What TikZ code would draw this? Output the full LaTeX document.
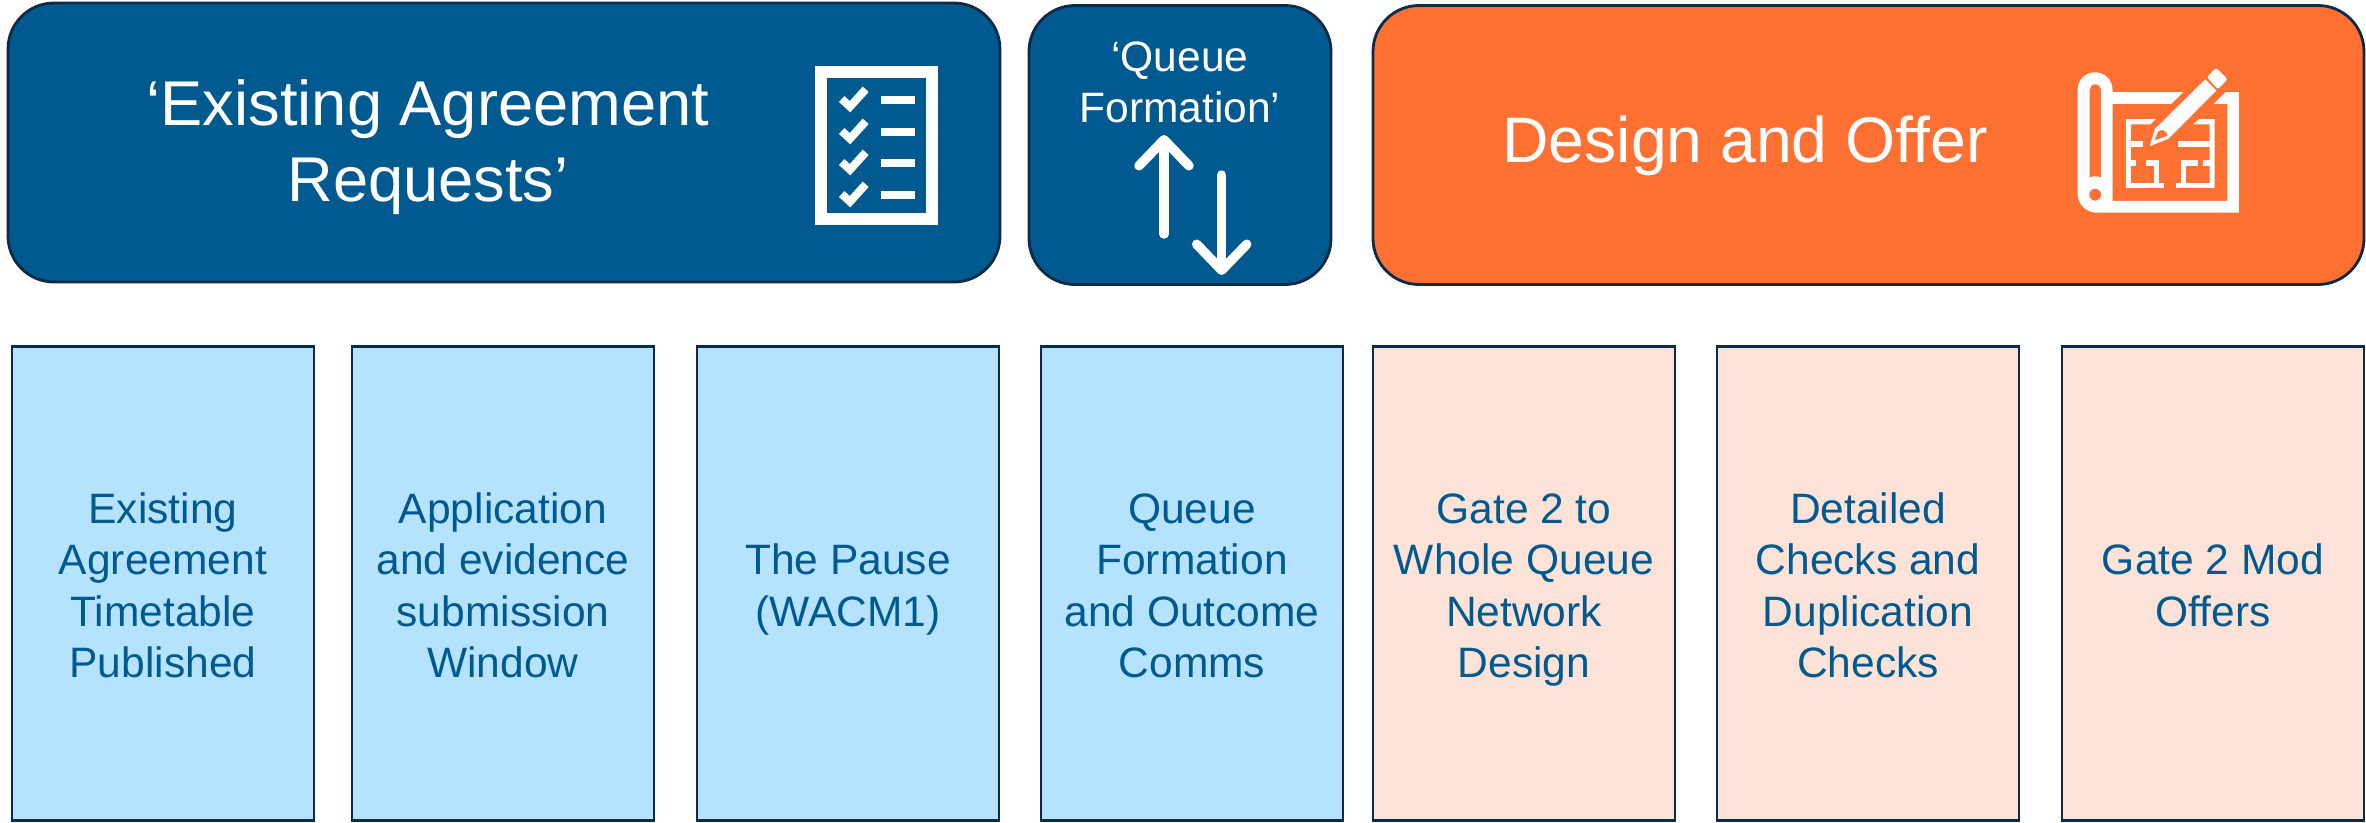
\documentclass[tikz,border=0pt]{standalone}
\usepackage{fontspec}
\setmainfont{Liberation Sans}
\usetikzlibrary{arrows.meta}
\usetikzlibrary{positioning}

\definecolor{navyline}{HTML}{0B2B48}
\definecolor{headblue}{HTML}{005A8F}
\definecolor{headorange}{HTML}{FF7033}
\definecolor{stepblue}{HTML}{B5E3FF}
\definecolor{steporange}{HTML}{FDE2D7}

% fixes the height of a first line, so all step texts centre alike
\newcommand{\steptop}{\rule{0pt}{12.4pt}}

\tikzset{
    headbox/.style = {draw = navyline, line width = 0.8pt, rounded corners = 0.46cm, inner sep = 0pt, outer sep = 0pt, minimum height = 2.79cm},
    stepbox/.style = {draw = navyline, line width = 0.8pt, text = headblue, align = center, inner sep = 0pt, outer sep = 0pt, minimum width = 3.02cm, minimum height = 4.74cm, font = \fontsize{12.1}{14.6}\selectfont, execute at end node = \rule[-2.7pt]{0pt}{0pt}},
    updown/.style = {white, line width = 0.095cm, line cap = round, -{Straight Barb[round, length = 0.26cm, width = 0.5cm]}}
}

\begin{document}
\begin{tikzpicture}[>=Stealth]

    \useasboundingbox (0,0) rectangle (23.66,-8.22);

    % header row
    \node[headbox, fill = headblue, minimum width = 9.92cm] (existing) at (5.04,-1.425) {};
    \node[headbox, fill = headblue, minimum width = 3.02cm] (queue) at (11.80,-1.45) {};
    \node[headbox, fill = headorange, minimum width = 9.91cm] (design) at (18.685,-1.45) {};

    \node[text = white, align = center, font = \fontsize{18}{21.6}\selectfont] (existingtext) at (4.28,-1.47) {‘Existing Agreement\\Requests’};
    \node[text = white, align = center, font = \fontsize{12.1}{14.5}\selectfont] (queuetext) at (11.8,-0.82) {‘Queue\\Formation’};
    \node[text = white, font = \fontsize{18.3}{22}\selectfont] (designtext) at (17.45,-1.46) {Design and Offer};

    % step row
    \node[stepbox, fill = stepblue] (timetable) at (1.63,-5.835) {\steptop Existing\\Agreement\\Timetable\\Published};
    \node[stepbox, fill = stepblue, right = 0.38cm of timetable] (window) {\steptop Application\\and evidence\\submission\\Window};
    \node[stepbox, fill = stepblue, right = 0.43cm of window] (pause) {\steptop The Pause\\(WACM1)};
    \node[stepbox, fill = stepblue, right = 0.42cm of pause] (comms) {\steptop Queue\\Formation\\and Outcome\\Comms};
    \node[stepbox, fill = steporange, right = 0.30cm of comms] (network) {\steptop Gate 2 to\\Whole Queue\\Network\\Design};
    \node[stepbox, fill = steporange, right = 0.42cm of network] (checks) {\steptop Detailed\\Checks and\\Duplication\\Checks};
    \node[stepbox, fill = steporange, right = 0.43cm of checks] (offers) {\steptop Gate 2 Mod\\Offers};

    % arrows in the queue box
    \coordinate (upfoot) at (11.64,-2.34);
    \coordinate (uphead) at (11.64,-1.35);
    \coordinate (downfoot) at (12.217,-1.75);
    \coordinate (downhead) at (12.217,-2.75);
    \draw[updown] (upfoot) -- (uphead);
    \draw[updown] (downfoot) -- (downhead);

    % checklist icon
    \draw[white, line width = 0.12cm] (8.213,-0.72) rectangle (9.32,-2.185);
    \foreach \y in {0,0.32,0.63,0.95}{
        \draw[white, line width = 0.08cm] (8.417,-0.99-\y) -- (8.50,-1.067-\y) -- (8.657,-0.893-\y);
        \fill[white] (8.81,-0.957-\y) rectangle (9.15,-1.037-\y);
    }

    % blueprint icon, in 1/300 cm from its corner
    \begin{scope}[shift = {(20.40,-0.40)}, x = 0.003333cm, y = -0.003333cm]
        \fill[white, even odd rule] (218,157) -- (430,157) -- (395,192) -- (218,192) -- (218,484) -- (563,484) -- (563,192) -- (522,192) -- (558,157) -- (598,157) -- (598,519) -- (170,519) .. controls (138.6,519) and (113,493.4) .. (113,462) -- (113,150) .. controls (113,121) and (136,97) .. (165.5,97) .. controls (195,97) and (218,121) .. (218,150) -- cycle
            (149,150) .. controls (149,141) and (156,133) .. (166.5,133) .. controls (177,133) and (184,141) .. (184,150) -- (184,414) .. controls (172,408) and (161,408) .. (149,414) -- cycle
            (148,465) .. controls (148,455) and (156,447) .. (166,447) .. controls (176,447) and (184,455) .. (184,465) .. controls (184,475) and (176,483) .. (166,483) .. controls (156,483) and (148,475) .. (148,465) -- cycle;
        % plan walls
        \fill[white] (258,238) -- (348,238) -- (332,254) -- (273,254) -- (273,445) -- (258,445) -- cycle;
        \fill[white] (460,254) -- (478,238) -- (525,238) -- (525,445) -- (510,445) -- (510,254) -- cycle;
        \foreach \xa/\ya/\xb/\yb in {273/305/310/322, 273/362/290/378, 320/362/358/378, 343/378/358/430, 273/430/373/445, 408/430/510/445, 423/378/438/430, 423/362/475/378, 490/362/510/378, 415/305/510/322}{
            \fill[white] (\xa,\ya) rectangle (\xb,\yb);
        }
        % pencil
        \fill[white, even odd rule] (330,319) -- (345,268) -- (497,118) -- (530,152) -- (386,297) -- cycle
            (345,302) -- (352,280) .. controls (362,262) and (382,272) .. (384,288) -- cycle;
        \fill[white, rounded corners = 0.02cm] (502,112) -- (530,84) -- (564,118) -- (535,148) -- cycle;
    \end{scope}

\end{tikzpicture}
\end{document}
